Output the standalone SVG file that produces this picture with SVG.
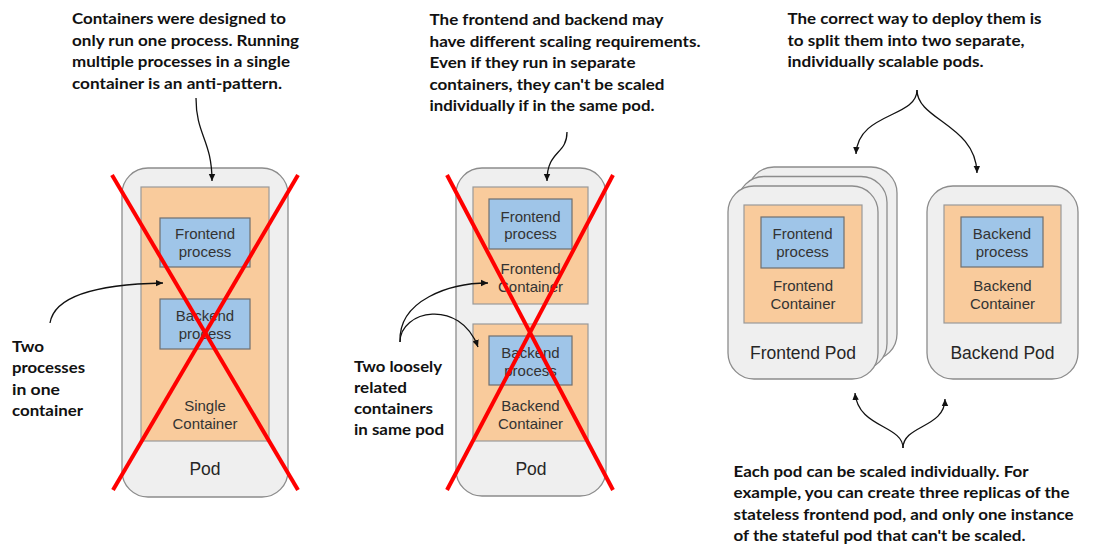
<svg xmlns="http://www.w3.org/2000/svg" width="1105" height="558" viewBox="0 0 1105 558">
<style>
.pod{fill:#efefef;stroke:#8c8c8c;stroke-width:1.3}
.ctr{fill:#f9cb9c;stroke:#999;stroke-width:1.2}
.proc{fill:#9fc5e8;stroke:#6f6f6f;stroke-width:1.2}
.lbl{font-family:"Liberation Sans",Arial,sans-serif;font-size:15px;fill:#333;text-anchor:middle}
.podl{font-family:"Liberation Sans",Arial,sans-serif;font-size:17.5px;fill:#262626;text-anchor:middle}
.ann{font-family:Lato,"Liberation Sans",sans-serif;font-weight:bold;font-size:16px;fill:#111}
.cross{stroke:#ff0000;stroke-width:4;stroke-linecap:butt}
.conn{fill:none;stroke:#111;stroke-width:1.3}
</style>
<defs>
<marker id="ah" markerWidth="8" markerHeight="8" refX="7" refY="4" orient="auto" markerUnits="userSpaceOnUse">
<path d="M0,0.8 L7,4 L0,7.2 z" fill="#111"/>
</marker>
</defs>
<rect width="1105" height="558" fill="#fff"/>

<g id="note-left">
<text class="ann" x="72" y="24" textLength="214" lengthAdjust="spacingAndGlyphs">Containers were designed to</text>
<text class="ann" x="72" y="45.5" textLength="227" lengthAdjust="spacingAndGlyphs">only run one process. Running</text>
<text class="ann" x="72" y="67" textLength="218" lengthAdjust="spacingAndGlyphs">multiple processes in a single</text>
<text class="ann" x="72" y="88.5" textLength="210" lengthAdjust="spacingAndGlyphs">container is an anti-pattern.</text>
</g>

<g id="label-two-processes">
<text class="ann" x="12" y="351.5" textLength="32" lengthAdjust="spacingAndGlyphs">Two</text>
<text class="ann" x="12" y="373" textLength="73" lengthAdjust="spacingAndGlyphs">processes</text>
<text class="ann" x="12" y="394.5" textLength="48" lengthAdjust="spacingAndGlyphs">in one</text>
<text class="ann" x="12" y="416" textLength="71" lengthAdjust="spacingAndGlyphs">container</text>
</g>

<g id="pod-left">
<rect class="pod" x="122" y="168" width="166" height="329" rx="26"/>
<text class="podl" x="205" y="475">Pod</text>
</g>
<g id="container-single">
<rect class="ctr" x="141" y="187" width="128" height="254"/>
<text class="lbl" x="205" y="410.5">Single</text>
<text class="lbl" x="205" y="428.5">Container</text>
</g>
<g id="proc-frontend-left">
<rect class="proc" x="160" y="218" width="90" height="49"/>
<text class="lbl" x="205" y="239">Frontend</text>
<text class="lbl" x="205" y="257">process</text>
</g>
<g id="proc-backend-left">
<rect class="proc" x="160" y="299" width="90" height="50"/>
<text class="lbl" x="205" y="321">Backend</text>
<text class="lbl" x="205" y="339">process</text>
</g>
<g id="cross-left">
<line class="cross" x1="112" y1="175" x2="298" y2="490"/>
<line class="cross" x1="298" y1="175" x2="113" y2="490"/>
</g>

<g id="note-middle">
<text class="ann" x="429.5" y="25" textLength="234" lengthAdjust="spacingAndGlyphs">The frontend and backend may</text>
<text class="ann" x="429.5" y="46.5" textLength="271" lengthAdjust="spacingAndGlyphs">have different scaling requirements.</text>
<text class="ann" x="429.5" y="68" textLength="206" lengthAdjust="spacingAndGlyphs">Even if they run in separate</text>
<text class="ann" x="429.5" y="89.5" textLength="235" lengthAdjust="spacingAndGlyphs">containers, they can't be scaled</text>
<text class="ann" x="429.5" y="111" textLength="225" lengthAdjust="spacingAndGlyphs">individually if in the same pod.</text>
</g>

<g id="label-two-loosely">
<text class="ann" x="354" y="371.5" textLength="88" lengthAdjust="spacingAndGlyphs">Two loosely</text>
<text class="ann" x="354" y="393" textLength="53" lengthAdjust="spacingAndGlyphs">related</text>
<text class="ann" x="354" y="414" textLength="79" lengthAdjust="spacingAndGlyphs">containers</text>
<text class="ann" x="354" y="435" textLength="90" lengthAdjust="spacingAndGlyphs">in same pod</text>
</g>

<g id="pod-middle">
<rect class="pod" x="456" y="168" width="150" height="328" rx="26"/>
<text class="podl" x="531" y="475">Pod</text>
</g>
<g id="container-frontend-mid">
<rect class="ctr" x="473" y="187" width="115" height="117"/>
<text class="lbl" x="530.5" y="274">Frontend</text>
<text class="lbl" x="530.5" y="292">Container</text>
</g>
<g id="proc-frontend-mid">
<rect class="proc" x="489" y="199" width="83" height="50"/>
<text class="lbl" x="530.5" y="221.5">Frontend</text>
<text class="lbl" x="530.5" y="239">process</text>
</g>
<g id="container-backend-mid">
<rect class="ctr" x="473" y="324" width="115" height="117"/>
<text class="lbl" x="530.5" y="410.5">Backend</text>
<text class="lbl" x="530.5" y="428.5">Container</text>
</g>
<g id="proc-backend-mid">
<rect class="proc" x="489" y="336" width="83" height="49"/>
<text class="lbl" x="530.5" y="357.5">Backend</text>
<text class="lbl" x="530.5" y="375.5">process</text>
</g>
<g id="cross-middle">
<line class="cross" x1="447" y1="175" x2="613" y2="490"/>
<line class="cross" x1="613" y1="175" x2="447" y2="490"/>
</g>

<g id="note-right">
<text class="ann" x="787.5" y="24" textLength="254" lengthAdjust="spacingAndGlyphs">The correct way to deploy them is</text>
<text class="ann" x="787.5" y="45.5" textLength="237" lengthAdjust="spacingAndGlyphs">to split them into two separate,</text>
<text class="ann" x="787.5" y="67" textLength="196" lengthAdjust="spacingAndGlyphs">individually scalable pods.</text>
</g>

<g id="pod-frontend-replicas">
<rect class="pod" x="748" y="167" width="149" height="193" rx="26"/>
<rect class="pod" x="738" y="176.5" width="149" height="193" rx="26"/>
</g>
<g id="pod-frontend">
<rect class="pod" x="728" y="186" width="150" height="193" rx="26"/>
<text class="podl" x="803" y="358.5">Frontend Pod</text>
</g>
<g id="container-frontend-right">
<rect class="ctr" x="744" y="205" width="118" height="118"/>
<text class="lbl" x="803" y="291">Frontend</text>
<text class="lbl" x="803" y="309">Container</text>
</g>
<g id="proc-frontend-right">
<rect class="proc" x="761" y="217" width="83" height="51"/>
<text class="lbl" x="802.5" y="239">Frontend</text>
<text class="lbl" x="802.5" y="257">process</text>
</g>

<g id="pod-backend">
<rect class="pod" x="927" y="186" width="151" height="193" rx="26"/>
<text class="podl" x="1002.5" y="358.5">Backend Pod</text>
</g>
<g id="container-backend-right">
<rect class="ctr" x="944" y="205" width="117" height="118"/>
<text class="lbl" x="1002.5" y="291">Backend</text>
<text class="lbl" x="1002.5" y="309">Container</text>
</g>
<g id="proc-backend-right">
<rect class="proc" x="961" y="217" width="82" height="50"/>
<text class="lbl" x="1002" y="238.5">Backend</text>
<text class="lbl" x="1002" y="256.5">process</text>
</g>

<g id="note-bottom">
<text class="ann" x="733.5" y="476.5" textLength="295" lengthAdjust="spacingAndGlyphs">Each pod can be scaled individually. For</text>
<text class="ann" x="733.5" y="498" textLength="336" lengthAdjust="spacingAndGlyphs">example, you can create three replicas of the</text>
<text class="ann" x="733.5" y="519.5" textLength="340" lengthAdjust="spacingAndGlyphs">stateless frontend pod, and only one instance</text>
<text class="ann" x="733.5" y="541" textLength="292" lengthAdjust="spacingAndGlyphs">of the stateful pod that can't be scaled.</text>
</g>

<g id="connectors">
<path class="conn" d="M196,98 C196,135 212,140 212,181" marker-end="url(#ah)"/>
<path class="conn" d="M50,323 C55,292 110,284 163,283" marker-end="url(#ah)"/>
<path class="conn" d="M567,132 C567,155 547,150 547,181" marker-end="url(#ah)"/>
<path class="conn" d="M400,342 C398,300 450,283 488,283" marker-end="url(#ah)"/>
<path class="conn" d="M400,342 C400,310 460,298 478,347" marker-end="url(#ah)"/>
<path class="conn" d="M917,90 C917,118 858,112 856,154" marker-end="url(#ah)"/>
<path class="conn" d="M917,90 C917,120 976,125 977,173" marker-end="url(#ah)"/>
<path class="conn" d="M903,448 C903,425 858,428 855,393" marker-end="url(#ah)"/>
<path class="conn" d="M903,448 C903,425 945,428 945,399" marker-end="url(#ah)"/>
</g>
</svg>
